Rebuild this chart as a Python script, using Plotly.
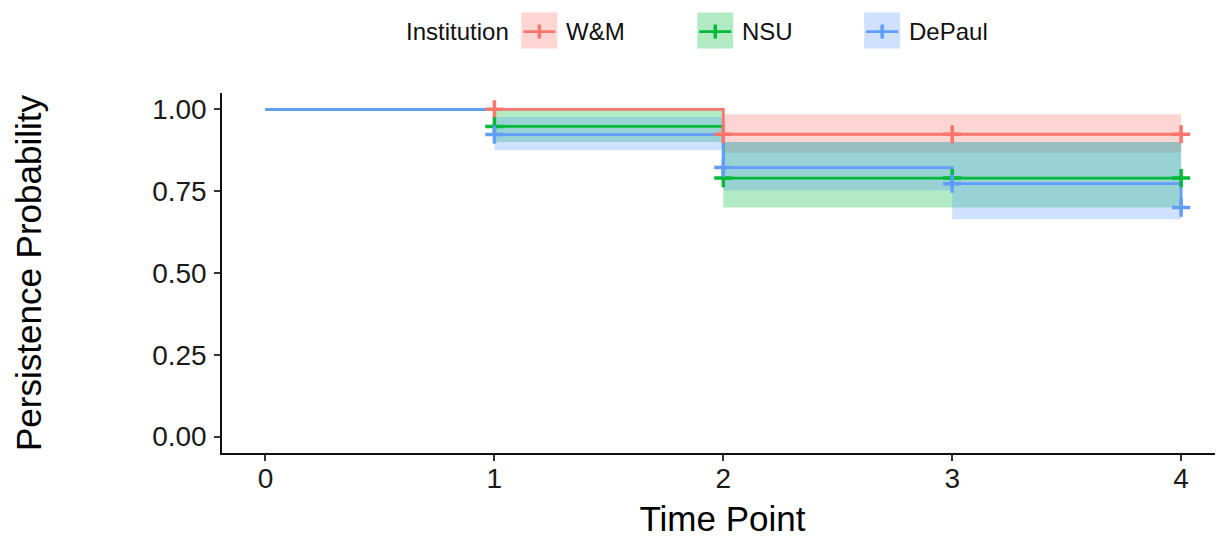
import plotly.graph_objects as go

# ---- data ----
time_points = [0, 1, 2, 3, 4]
institutions = ["W&M", "NSU", "DePaul"]
colors = ["#F8766D", "#00BA38", "#619CFF"]
band_colors = ["rgba(248,118,109,0.30)", "rgba(0,186,56,0.30)", "rgba(97,156,255,0.30)"]

surv_wm = [1.0, 1.0, 0.924, 0.924, 0.924]
lower_wm = [1.0, 1.0, 0.868, 0.868, 0.868]
upper_wm = [1.0, 1.0, 0.985, 0.985, 0.985]

surv_nsu = [1.0, 0.948, 0.790, 0.790, 0.790]
lower_nsu = [1.0, 0.900, 0.700, 0.700, 0.700]
upper_nsu = [1.0, 1.000, 0.900, 0.900, 0.900]

surv_dep = [1.0, 0.923, 0.822, 0.773, 0.700]
lower_dep = [1.0, 0.875, 0.753, 0.664, 0.664]
upper_dep = [1.0, 0.977, 0.900, 0.900, 0.900]

censor_times_wm = [1, 2, 3, 4]
censor_times_nsu = [1, 2, 3, 4]
censor_times_dep = [1, 2, 3, 4]

x_ticks = [0, 1, 2, 3, 4]
y_ticks = [0.0, 0.25, 0.5, 0.75, 1.0]
y_tick_labels = ["0.00", "0.25", "0.50", "0.75", "1.00"]

survs = [surv_wm, surv_nsu, surv_dep]
lowers = [lower_wm, lower_nsu, lower_dep]
uppers = [upper_wm, upper_nsu, upper_dep]
censors = [censor_times_wm, censor_times_nsu, censor_times_dep]

FONT = "Liberation Sans, Arial, sans-serif"

fig = go.Figure()

# confidence bands
for i in range(3):
    fig.add_trace(go.Scatter(x=time_points, y=uppers[i], mode="lines",
                             line=dict(width=0, shape="hv", color=band_colors[i]),
                             showlegend=False, hoverinfo="skip"))
    fig.add_trace(go.Scatter(x=time_points, y=lowers[i], mode="lines",
                             line=dict(width=0, shape="hv", color=band_colors[i]),
                             fill="tonexty", fillcolor=band_colors[i],
                             showlegend=False, hoverinfo="skip"))

# step lines
for i in range(3):
    fig.add_trace(go.Scatter(x=time_points, y=survs[i], mode="lines",
                             line=dict(width=2.8, shape="hv", color=colors[i]),
                             name=institutions[i], showlegend=False))

# censor marks
for i in range(3):
    ys = [survs[i][time_points.index(t)] for t in censors[i]]
    fig.add_trace(go.Scatter(x=censors[i], y=ys, mode="markers",
                             marker=dict(symbol="cross-thin", size=13,
                                         line=dict(width=3.5, color=colors[i]),
                                         color=colors[i]),
                             showlegend=False, hoverinfo="skip"))

# ---- layout in page pixels (page has an 8px body margin) ----
OFF = 8
PW, PH = 1223, 538
L, R, T, B = 221.5, 1223, 92.6, 453.4
W, H = R - L, B - T
def px(x):
    return (x - L) / W
def py(y):
    return (B - y) / H

shapes = []
annotations = []
annotations.append(dict(x=px(404), y=py(31), xref="paper", yref="paper", text="Institution",
                        showarrow=False, xanchor="left", yanchor="middle",
                        font=dict(family=FONT, size=24, color="#111111")))
sq_left = [521, 697, 864]
for i in range(3):
    x0 = sq_left[i]
    shapes.append(dict(type="rect", xref="paper", yref="paper",
                       x0=px(x0), x1=px(x0 + 36), y0=py(48), y1=py(12),
                       fillcolor=band_colors[i], line=dict(width=0), layer="above"))
    shapes.append(dict(type="line", xref="paper", yref="paper",
                       x0=px(x0 + 2), x1=px(x0 + 34), y0=py(31), y1=py(31),
                       line=dict(color=colors[i], width=2.8), layer="above"))
    shapes.append(dict(type="line", xref="paper", yref="paper",
                       x0=px(x0 + 18), x1=px(x0 + 18), y0=py(24), y1=py(38),
                       line=dict(color=colors[i], width=3.5), layer="above"))
    annotations.append(dict(x=px(x0 + 43), y=py(31), xref="paper", yref="paper",
                            text=institutions[i], showarrow=False,
                            xanchor="left", yanchor="middle",
                            font=dict(family=FONT, size=24, color="#111111")))

fig.update_layout(
    width=PW - OFF, height=PH - OFF,
    margin=dict(l=L - OFF, r=PW - R, t=T - OFF, b=PH - B, autoexpand=False),
    paper_bgcolor="white", plot_bgcolor="white",
    showlegend=False,
    shapes=shapes, annotations=annotations,
    font=dict(family=FONT, color="#111111"),
)
fig.update_xaxes(range=[-0.19, 4.183], tickvals=x_ticks, ticktext=[str(t) for t in x_ticks],
                 showgrid=False, zeroline=False, showline=True, linecolor="#111111", linewidth=1.5,
                 ticks="outside", ticklen=6, tickwidth=1.5, tickcolor="#333333",
                 tickfont=dict(family=FONT, size=28, color="#1a1a1a"),
                 ticklabelstandoff=-6, automargin=True,
                 title=dict(text="Time Point", standoff=18,
                            font=dict(family=FONT, size=35, color="#000000")))
fig.update_yaxes(range=[-0.05, 1.05], tickvals=y_ticks, ticktext=y_tick_labels,
                 showgrid=False, zeroline=False, showline=True, linecolor="#111111", linewidth=1.5,
                 ticks="outside", ticklen=6, tickwidth=1.5, tickcolor="#333333",
                 tickfont=dict(family=FONT, size=28, color="#1a1a1a"),
                 ticklabelstandoff=2, automargin=True,
                 title=dict(text="Persistence Probability", standoff=100,
                            font=dict(family=FONT, size=35, color="#000000")))

fig.write_html("out.html")
